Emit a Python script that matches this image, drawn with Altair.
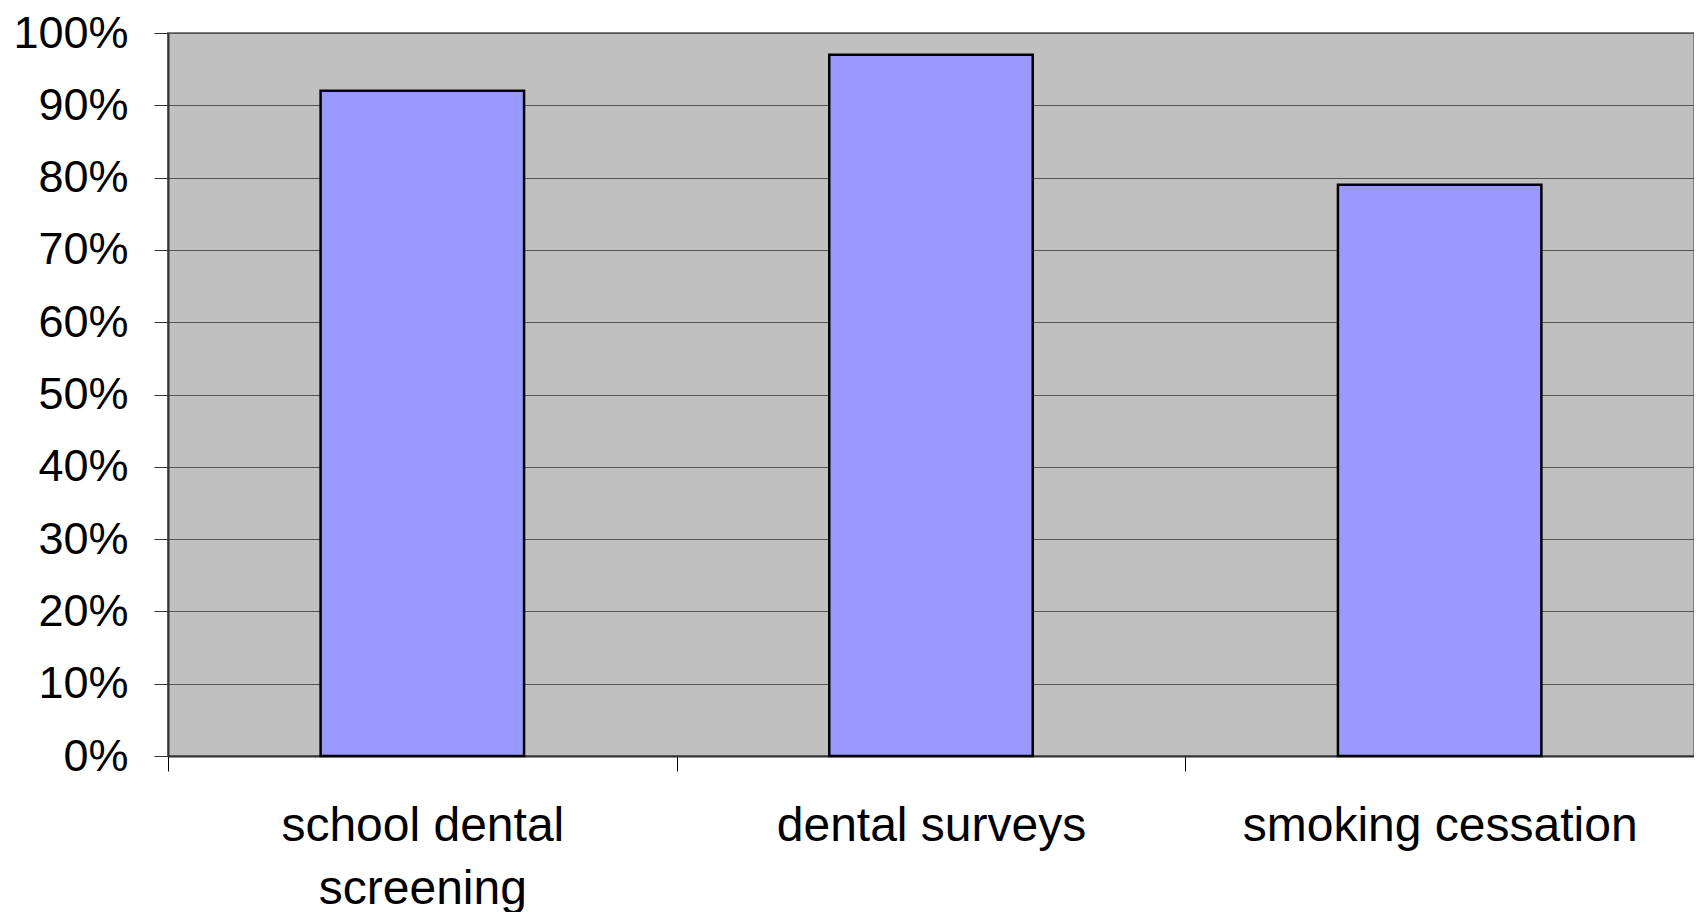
import altair as alt
import pandas as pd

categories = ["school dental screening", "dental surveys", "smoking cessation"]
values = [0.92, 0.97, 0.79]
y_ticks = [0, 0.1, 0.2, 0.3, 0.4, 0.5, 0.6, 0.7, 0.8, 0.9, 1.0]

df = pd.DataFrame({"category": categories, "value": values})

FONT = "Liberation Sans"

chart = alt.Chart(df).mark_bar(
    width=alt.RelativeBandSize(0.4),
    fill="#9999FF",
    stroke="#000000",
    strokeWidth=2.5,
).encode(
    x=alt.X(
        "category:N",
        sort=None,
        title=None,
        scale=alt.Scale(paddingInner=0, paddingOuter=0),
        axis=alt.Axis(
            labelAngle=0,
            labelFont=FONT,
            labelFontSize=48,
            labelColor="#000000",
            labelLimit=0,
            labelPadding=31,
            labelLineHeight=63,
            labelExpr="datum.label == 'school dental screening' ? ['school dental', 'screening'] : datum.label",
            tickBand="extent",
            tickSize=15,
            tickColor="#000000",
            tickWidth=1,
            domainColor="#333333",
            domainWidth=2,
            grid=False,
        ),
    ),
    y=alt.Y(
        "value:Q",
        title=None,
        scale=alt.Scale(domain=[0, 1], nice=False),
        axis=alt.Axis(
            values=y_ticks,
            format="%",
            labelFont=FONT,
            labelFontSize=45,
            labelColor="#000000",
            labelPadding=26,
            tickSize=14,
            tickColor="#333333",
            tickWidth=1,
            domainColor="#333333",
            domainWidth=2,
            grid=True,
            gridColor="#555555",
            gridWidth=1,
            gridOpacity=1,
        ),
    ),
).properties(
    width=1526,
    height=723,
    autosize=alt.AutoSizeParams(type="none"),
    padding={"left": 160, "top": 25, "right": 0, "bottom": 160},
).configure(
    background="#FFFFFF",
).configure_view(
    fill="#C0C0C0",
    stroke="#808080",
    strokeWidth=2,
)

chart.save("out.html", embed_options={"renderer": "svg", "actions": False})
